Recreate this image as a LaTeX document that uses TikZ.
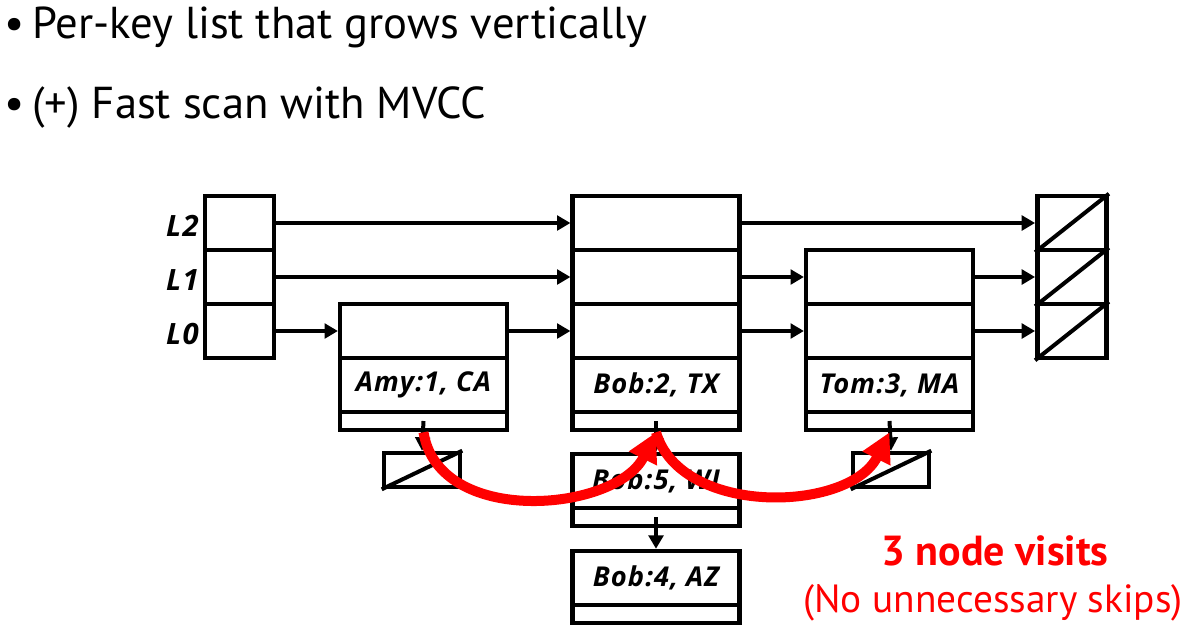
\documentclass[tikz,border=0pt]{standalone}
\usepackage{fontspec}
\setmainfont{PT Sans}
\newfontfamily\lblfont{Open Sans}[LetterSpace=4]
\usetikzlibrary{arrows.meta}
\definecolor{visitred}{RGB}{255,0,0}
\tikzset{
  cell/.style={draw, line width=3.4pt, inner sep=0pt, minimum width=125pt, minimum height=40.5pt},
  headcell/.style={cell, minimum width=52pt},
  stripcell/.style={cell, minimum height=13.5pt},
  nullbox/.style={draw, line width=3.4pt, inner sep=0pt, minimum width=57pt, minimum height=25.5pt},
  keytext/.style={font=\lblfont\bfseries\itshape\fontsize{20.5}{22}\selectfont},
  link/.style={line width=3pt, -{Triangle[length=10pt,width=11pt]}},
  visit/.style={draw=visitred, line width=7.5pt, -{Triangle[length=22pt,width=22pt]}},
}
\begin{document}
\begin{tikzpicture}[x=0.75pt,y=0.75pt,yscale=-1,xscale=1]
        \useasboundingbox (0,0) rectangle (1192,636);
        % Text Node
        \draw (4,38) node [anchor=base west, inner sep=0pt] [font=\fontsize{33.5}{36}\selectfont] (bulleta) {•\hspace{6pt}Per-key list that grows vertically};
        % Text Node
        \draw (4,118) node [anchor=base west, inner sep=0pt] [font=\fontsize{33.5}{36}\selectfont] (bulletb) {•\hspace{6pt}(+) Fast scan with MVCC};
        % Head
        \draw (239.5,223) node [headcell] (hd2) {};
        \draw (239.5,277) node [headcell] (hd1) {};
        \draw (239.5,331) node [headcell] (hd0) {};
        % Text Node
        \draw (199,226) node [anchor=east, inner sep=0pt] [font=\lblfont\bfseries\itshape\fontsize{22}{24}\selectfont] (lvl2) {L2};
        \draw (199,280) node [anchor=east, inner sep=0pt] [font=\lblfont\bfseries\itshape\fontsize{22}{24}\selectfont] (lvl1) {L1};
        \draw (199,334) node [anchor=east, inner sep=0pt] [font=\lblfont\bfseries\itshape\fontsize{22}{24}\selectfont] (lvl0) {L0};
        % Amy
        \draw (423.5,331) node [cell] (amy0) {};
        \draw (423.5,385) node [cell, keytext] (amyval) {Amy:1, CA};
        \draw (423.5,421) node [stripcell] (amyptr) {};
        % Bob:2
        \draw (656,223) node [cell] (bobb2) {};
        \draw (656,277) node [cell] (bobb1) {};
        \draw (656,331) node [cell] (bobb0) {};
        \draw (656,385) node [cell, keytext] (bobbval) {Bob:2, TX};
        \draw (656,421) node [stripcell] (bobbptr) {};
        % Tom
        \draw (889.5,277) node [cell] (tom1) {};
        \draw (889.5,331) node [cell] (tom0) {};
        \draw (889.5,385) node [cell, keytext] (tomval) {Tom:3, MA};
        \draw (889.5,421) node [stripcell] (tomptr) {};
        % Tail
        \draw (1072,223) node [headcell] (tl2) {};
        \draw (1072,277) node [headcell] (tl1) {};
        \draw (1072,331) node [headcell] (tl0) {};
        \draw [line width=3pt] (tl2.south west) -- (tl2.north east);
        \draw [line width=3pt] (tl1.south west) -- (tl1.north east);
        \draw [line width=3pt] (tl0.south west) -- (tl0.north east);
        % Versions
        \draw (422,470) node [nullbox] (amynull) {};
        \draw [line width=3pt] (amynull.south west) -- (amynull.north east);
        \draw (891,470) node [nullbox] (tomnull) {};
        \draw [line width=3pt] (tomnull.south west) -- (tomnull.north east);
        \draw (656,481) node [cell, keytext] (bobeval) {Bob:5, WI};
        \draw (656,517) node [stripcell] (bobeptr) {};
        \draw (656,578) node [cell, keytext] (bobdval) {Bob:4, AZ};
        \draw (656,614) node [stripcell] (bobdptr) {};
        % Connection
        \draw [link] (hd2.east) -- (bobb2.west);
        \draw [link] (hd1.east) -- (bobb1.west);
        \draw [link] (hd0.east) -- (amy0.west);
        \draw [link] (amy0.east) -- (bobb0.west);
        \draw [link] (bobb2.east) -- (tl2.west);
        \draw [link] (bobb1.east) -- (tom1.west);
        \draw [link] (bobb0.east) -- (tom0.west);
        \draw [link] (tom1.east) -- (tl1.west);
        \draw [link] (tom0.east) -- (tl0.west);
        % Connection
        \draw [link] (amyptr.center) -- (amynull.north);
        \draw [link] (bobbptr.center) -- (bobeval.north);
        \draw [link] (tomptr.center) -- (tomnull.north);
        \draw [link] (bobeptr.center) -- (bobdval.north);
        % Scan
        \draw [visit] (amyptr.south) .. controls +(15,95) and +(-40,80) .. (bobbptr.south);
        \draw [visit] (bobbptr.south) .. controls +(25,85) and +(-40,80) .. (tomptr.south);
        % Text Node
        \draw (995,551) node [font=\bfseries\fontsize{31.5}{34}\selectfont, text=visitred] (visits) {3 node visits};
        \draw (993,603) node [font=\fontsize{29.5}{32}\selectfont, text=visitred] (noskip) {(No unnecessary skips)};
\end{tikzpicture}
\end{document}
